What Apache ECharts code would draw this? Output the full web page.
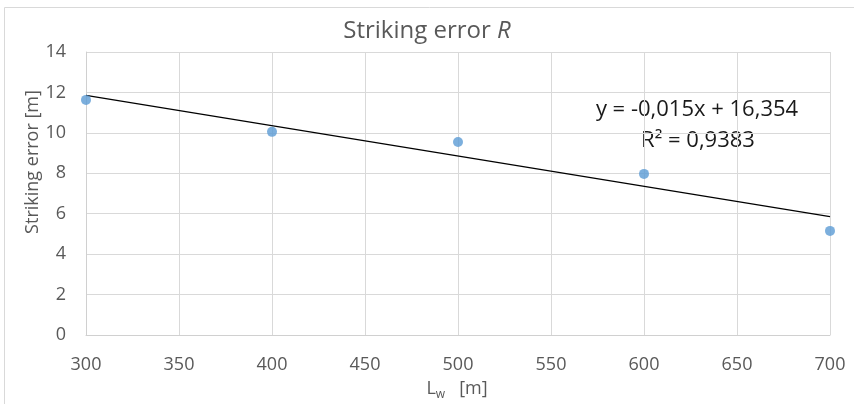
<!DOCTYPE html>
<html>
<head>
<meta charset="utf-8">
<script src="https://cdn.jsdelivr.net/npm/echarts@6/dist/echarts.min.js"></script>
<style>
html,body{margin:0;padding:0;background:#fff;}
#chart{width:854px;height:404px;}
</style>
</head>
<body>
<div id="chart"></div>
<script>
// measured points
var lengthW=[300,400,500,600,700];
var strikingErr=[11.63,10.05,9.55,7.97,5.15];
// trendline from the Excel fit
var trendSlope=-0.015, trendIntercept=16.354;
var trendText=['y = -0,015x + 16,354','R² = 0,9383'];
var xTicks={min:300,max:700,interval:50};
var yTicks={min:0,max:14,interval:2};

var pts=[],trend=[];
for(var i=0;i<lengthW.length;i++){
	pts.push([lengthW[i],strikingErr[i]]);
}
trend.push([xTicks.min,trendSlope*xTicks.min+trendIntercept]);
trend.push([xTicks.max,trendSlope*xTicks.max+trendIntercept]);

var fnt='"Open Sans", "Liberation Sans", sans-serif';
var grey='#595959';
var chart=echarts.init(document.getElementById('chart'));
chart.setOption({
	animation:false,
	textStyle:{fontFamily:fnt},
	grid:{left:86,right:24,top:52,bottom:69},
	xAxis:{
		type:'value',min:xTicks.min,max:xTicks.max,interval:xTicks.interval,
		axisLine:{lineStyle:{color:'#d0d0d0',width:1}},
		axisTick:{show:false},
		axisLabel:{color:grey,fontSize:18,margin:21,fontFamily:fnt},
		splitLine:{lineStyle:{color:'#d9d9d9',width:1}}
	},
	yAxis:{
		type:'value',min:yTicks.min,max:yTicks.max,interval:yTicks.interval,
		axisLine:{show:true,lineStyle:{color:'#d0d0d0',width:1}},
		axisTick:{show:false},
		axisLabel:{color:grey,fontSize:18,margin:20,fontFamily:fnt},
		splitLine:{lineStyle:{color:'#d9d9d9',width:1}}
	},
	series:[
		{
			type:'line',data:trend,showSymbol:false,symbol:'none',
			lineStyle:{color:'#000',width:1.3},z:2
		},
		{
			type:'scatter',data:pts,symbolSize:10,
			itemStyle:{color:'#5B9BD5'},z:3
		}
	],
	graphic:[
		{type:'rect',shape:{x:4.5,y:7.5,width:900,height:450},style:{fill:'none',stroke:'#d9d9d9',lineWidth:1},silent:true,z:-1},
		{type:'text',x:427,y:31,style:{text:'{n|Striking error }{i|R}',align:'center',verticalAlign:'middle',
			rich:{n:{fontSize:24,fill:grey,fontFamily:fnt},i:{fontSize:24,fill:grey,fontStyle:'italic',fontFamily:fnt}}}},
		{type:'text',x:33,y:162,rotation:Math.PI/2,style:{text:'Striking error [m]',align:'center',verticalAlign:'middle',
			fontSize:18,fill:grey,fontFamily:fnt}},
		{type:'text',x:457,y:389,style:{text:'{l|L}{s|w}{l|   [m]}',align:'center',verticalAlign:'middle',
			rich:{l:{fontSize:18,fill:grey,fontFamily:fnt},s:{fontSize:12,fill:grey,fontFamily:fnt,padding:[12,0,0,0]}}}},
		{type:'text',x:697,y:110,style:{text:trendText[0],align:'center',verticalAlign:'middle',fontSize:22,fill:'#1a1a1a',fontFamily:fnt}},
		{type:'text',x:698,y:141,style:{text:trendText[1],align:'center',verticalAlign:'middle',fontSize:22,fill:'#1a1a1a',fontFamily:fnt}}
	]
});
</script>
</body>
</html>
